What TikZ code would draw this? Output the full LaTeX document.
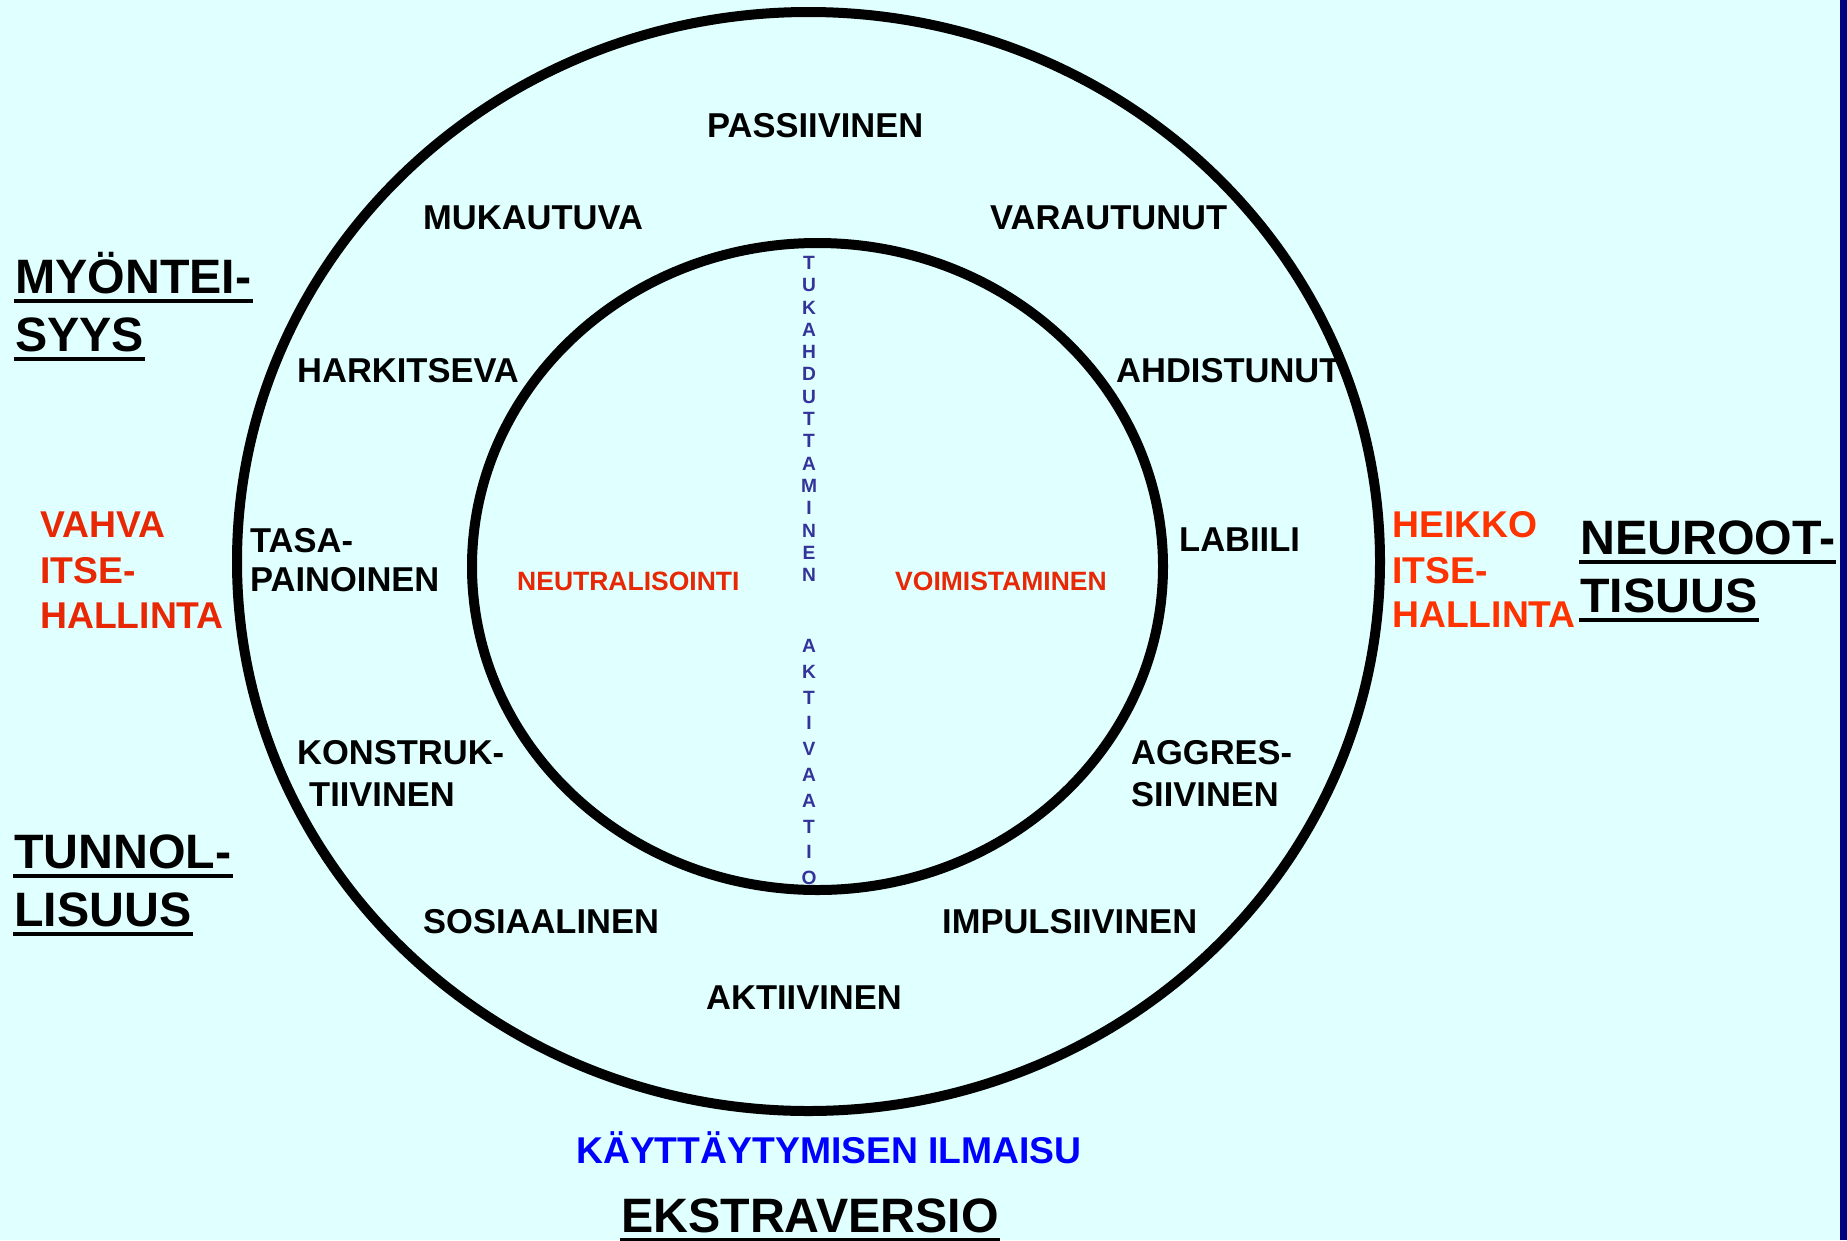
\documentclass[tikz,border=0pt]{standalone}
\usepackage{fontspec}
\setmainfont{Liberation Sans}
\usetikzlibrary{calc}
\definecolor{bg}{RGB}{224,255,255}
\definecolor{navy}{RGB}{0,0,128}
\definecolor{redL}{RGB}{232,40,5}
\definecolor{redR}{RGB}{255,51,0}
\definecolor{vert}{RGB}{51,51,153}
\definecolor{pureblue}{RGB}{0,0,255}
\tikzset{
  lbl/.style={font=\fontsize{34.5}{40}\selectfont\bfseries, anchor=base west, inner sep=0pt},
  head/.style={font=\fontsize{48.3}{56}\selectfont\bfseries, anchor=base west, inner sep=0pt},
  selfc/.style={font=\fontsize{37.3}{44}\selectfont\bfseries, anchor=base west, inner sep=0pt},
  mid/.style={font=\fontsize{26.5}{32}\selectfont\bfseries, anchor=base west, inner sep=0pt, text=redL},
  ring/.style={draw=black, line width=10pt},
  uline/.style={line width=4.5pt},
}
\begin{document}
\begin{tikzpicture}[x=1pt,y=-1pt]
\useasboundingbox (0,0) rectangle (1847,1240);
\fill[bg] (0,0) rectangle (1847,1240);
\fill[navy] (1840,0) rectangle (1847,1240);

% rings
\draw[ring] (808.5,561.5) ellipse [x radius=571.5, y radius=549.5];
\draw[ring] (817.5,566.5) ellipse [x radius=345.5, y radius=323.5];

% outer ring labels
\node[lbl] (passiivinen) at (707,137) {PASSIIVINEN};
\node[lbl] (mukautuva) at (423,229) {MUKAUTUVA};
\node[lbl] (varautunut) at (990,229) {VARAUTUNUT};
\node[lbl] (harkitseva) at (297,382) {HARKITSEVA};
\node[lbl] (ahdistunut) at (1116,382) {AHDISTUNUT};
\node[lbl] (tasa) at (250,552) {TASA-};
\node[lbl] (painoinen) at (250,591) {PAINOINEN};
\node[lbl] (labiili) at (1179,551) {LABIILI};
\node[lbl] (konstruk) at (297,764) {KONSTRUK-};
\node[lbl] (tiivinen) at (309,806) {TIIVINEN};
\node[lbl] (aggres) at (1131,764) {AGGRES-};
\node[lbl] (siivinen) at (1131,806) {SIIVINEN};
\node[lbl] (sosiaalinen) at (423,933) {SOSIAALINEN};
\node[lbl] (impulsiivinen) at (942,933) {IMPULSIIVINEN};
\node[lbl] (aktiivinen) at (706,1009) {AKTIIVINEN};

% inner labels
\node[mid] (neutral) at (517,590) {NEUTRALISOINTI};
\node[mid] (voim) at (895,590) {VOIMISTAMINEN};
\node[font=\fontsize{19.2}{22.3}\selectfont\bfseries, text=vert, align=center, anchor=north, inner sep=0pt] (tuk) at (809,256)
  {T\\U\\K\\A\\H\\D\\U\\T\\T\\A\\M\\I\\N\\E\\N};
\node[font=\fontsize{19.2}{25.8}\selectfont\bfseries, text=vert, align=center, anchor=north, inner sep=0pt] (akt) at (809,639)
  {A\\K\\T\\I\\V\\A\\A\\T\\I\\O};

% self-control
\node[selfc, text=redL] (vahva) at (40,537) {VAHVA};
\node[selfc, text=redL] (itseL) at (40,583) {ITSE-};
\node[selfc, text=redL] (hallL) at (40,628) {HALLINTA};
\node[selfc, text=redR] (heikko) at (1392,537) {HEIKKO};
\node[selfc, text=redR] (itseR) at (1392,583) {ITSE-};
\node[selfc, text=redR] (hallR) at (1392,627) {HALLINTA};

% headings
\node[head] (myo) at (15,293) {MYÖNTEI-};
\node[head] (syys) at (15,351) {SYYS};
\node[head] (tun) at (14,868) {TUNNOL-};
\node[head] (lis) at (14,926) {LISUUS};
\node[head] (neu) at (1580,554) {NEUROOT-};
\node[head] (tis) at (1580,612) {TISUUS};
\node[head] (eks) at (621,1232) {EKSTRAVERSIO};
\foreach \n in {myo,syys,tun,lis,neu,tis,eks}
  \draw[uline] ($(\n.base west)+(-1,8)$) -- ($(\n.base east)+(1,8)$);

\node[selfc, text=pureblue] (kay) at (576,1163) {KÄYTTÄYTYMISEN ILMAISU};
\end{tikzpicture}
\end{document}
